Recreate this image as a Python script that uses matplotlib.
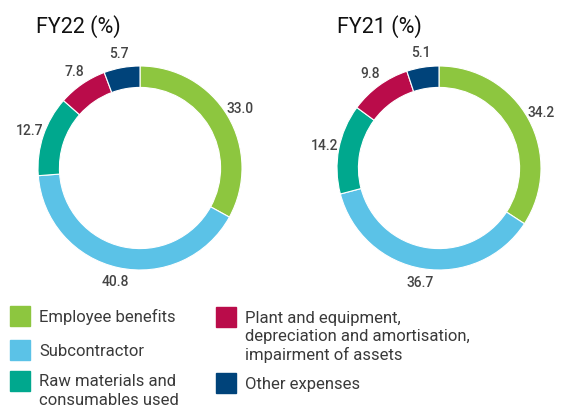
import matplotlib
matplotlib.use('Agg')
import matplotlib.pyplot as plt
from matplotlib.patches import Rectangle

plt.rcParams['font.family'] = ['Roboto', 'DejaVu Sans']

# Data --------------------------------------
categories = ['Employee benefits', 'Subcontractor',
              'Raw materials and\nconsumables used',
              'Plant and equipment,\ndepreciation and amortisation,\nimpairment of assets',
              'Other expenses']
colors = ['#8DC63F', '#5BC2E7', '#00A88E', '#BA0C4A', '#00437A']
fy22 = [33.0, 40.8, 12.7, 7.8, 5.7]
fy21 = [34.2, 36.7, 14.2, 9.8, 5.1]
titles = ['FY22 (%)', 'FY21 (%)']

W, H = 569, 408
fig = plt.figure(figsize=(W / 100, H / 100), dpi=100)

R = 102
lim = 1.35
s = 2 * R * lim


def donut(cx, cy, vals, title, tx):
    ax = fig.add_axes([(cx - s / 2) / W, (H - cy - s / 2) / H, s / W, s / H])
    ax.pie(vals, colors=colors, startangle=90, counterclock=False,
           labels=['%.1f' % v for v in vals], labeldistance=1.14,
           wedgeprops=dict(width=0.21, edgecolor='white', linewidth=0.8),
           textprops=dict(ha='center', va='center', fontsize=10,
                          fontweight='medium', color='#444444'))
    ax.set_xlim(-lim, lim)
    ax.set_ylim(-lim, lim)
    ax.set_aspect('equal')
    ax.axis('off')
    fig.text(tx / W, 1 - 27 / H, title, fontsize=15.5, color='#111111',
             ha='left', va='center')


donut(140, 168, fy22, titles[0], 36)
donut(439, 168, fy21, titles[1], 337)

# Legend --------------------------------------
sq = 20
pos = [(10, 306), (10, 340), (10, 371), (216, 307), (216, 373)]
for i in range(len(categories)):
    x, y = pos[i]
    fig.patches.append(Rectangle((x / W, 1 - (y + sq) / H), sq / W, sq / H,
                                 transform=fig.transFigure, color=colors[i]))
    lines = categories[i].split('\n')
    for j in range(len(lines)):
        fig.text((x + sq + 9) / W, 1 - (y + 11 + 18.5 * j) / H, lines[j],
                 fontsize=12, color='#3a3a3a', ha='left', va='center')

plt.savefig('out.png', dpi=100)
